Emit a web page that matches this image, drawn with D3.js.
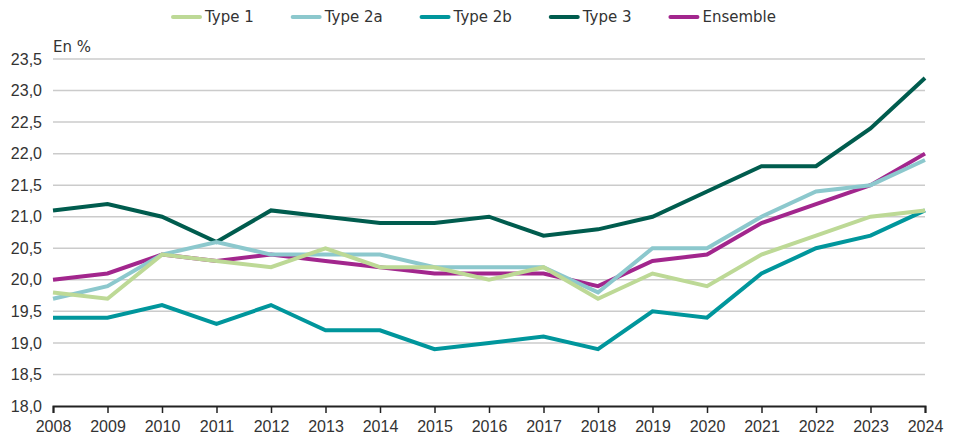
<!DOCTYPE html>
<html>
<head>
<meta charset="utf-8">
<script src="https://cdn.jsdelivr.net/npm/d3@7"></script>
<style>
  body { margin: 0; background: #fff; }
  svg { display: block; font-family: "DejaVu Sans", sans-serif; }
</style>
</head>
<body>
<svg id="chart"></svg>
<script>
// Data
const years = [2008, 2009, 2010, 2011, 2012, 2013, 2014, 2015, 2016, 2017, 2018, 2019, 2020, 2021, 2022, 2023, 2024];
const type1 = [19.8, 19.7, 20.4, 20.3, 20.2, 20.5, 20.2, 20.2, 20.0, 20.2, 19.7, 20.1, 19.9, 20.4, 20.7, 21.0, 21.1];
const type2a = [19.7, 19.9, 20.4, 20.6, 20.4, 20.4, 20.4, 20.2, 20.2, 20.2, 19.8, 20.5, 20.5, 21.0, 21.4, 21.5, 21.9];
const type2b = [19.4, 19.4, 19.6, 19.3, 19.6, 19.2, 19.2, 18.9, 19.0, 19.1, 18.9, 19.5, 19.4, 20.1, 20.5, 20.7, 21.1];
const type3 = [21.1, 21.2, 21.0, 20.6, 21.1, 21.0, 20.9, 20.9, 21.0, 20.7, 20.8, 21.0, 21.4, 21.8, 21.8, 22.4, 23.2];
const ensemble = [20.0, 20.1, 20.4, 20.3, 20.4, 20.3, 20.2, 20.1, 20.1, 20.1, 19.9, 20.3, 20.4, 20.9, 21.2, 21.5, 22.0];
const yTicks = [18.0, 18.5, 19.0, 19.5, 20.0, 20.5, 21.0, 21.5, 22.0, 22.5, 23.0, 23.5];

// legend order
const series = [
  { name: "Type 1", values: type1, color: "#bdd996" },
  { name: "Type 2a", values: type2a, color: "#8cc8cd" },
  { name: "Type 2b", values: type2b, color: "#00969c" },
  { name: "Type 3", values: type3, color: "#005c4e" },
  { name: "Ensemble", values: ensemble, color: "#a2268d" },
];
// drawing order (bottom to top)
const drawOrder = ["Ensemble", "Type 3", "Type 2b", "Type 2a", "Type 1"];

const width = 953, height = 440;
const margin = { top: 59, right: 28, bottom: 34, left: 53 };

const svg = d3.select("#chart").attr("width", width).attr("height", height);

const x = d3.scaleLinear()
  .domain([years[0], years[years.length - 1]])
  .range([margin.left, width - margin.right]);

const y = d3.scaleLinear()
  .domain([18, 23.5])
  .range([height - margin.bottom, margin.top]);

const fmt = d => d3.format(".1f")(d).replace(".", ",");

// gridlines
svg.append("g")
  .selectAll("line")
  .data(yTicks.slice(1))
  .join("line")
  .attr("x1", margin.left)
  .attr("x2", width - margin.right)
  .attr("y1", d => y(d))
  .attr("y2", d => y(d))
  .attr("stroke", "#cbcbcb")
  .attr("stroke-width", 1.5);

// y axis labels only
const yAxis = svg.append("g")
  .attr("transform", `translate(${margin.left},0)`)
  .call(d3.axisLeft(y).tickValues(yTicks).tickFormat(fmt).tickSize(0).tickPadding(11));
yAxis.select(".domain").remove();
yAxis.selectAll("text")
  .attr("fill", "#333")
  .style("font-size", "16px");

// x axis
const xAxis = svg.append("g")
  .attr("transform", `translate(0,${y(18)})`)
  .call(d3.axisBottom(x).tickValues(years).tickFormat(d3.format("d")).tickSize(7).tickPadding(8));
xAxis.select(".domain").attr("stroke", "#222").attr("stroke-width", 2);
xAxis.selectAll(".tick line").attr("stroke", "#222").attr("stroke-width", 1.5);
xAxis.selectAll("text")
  .attr("fill", "#333")
  .style("font-size", "16px");

// unit label
svg.append("text")
  .attr("x", margin.left)
  .attr("y", 52)
  .attr("fill", "#333")
  .style("font-size", "15px")
  .text("En %");

// lines
const line = d3.line()
  .x((d, i) => x(years[i]))
  .y(d => y(d));

svg.append("g")
  .selectAll("path")
  .data(drawOrder.map(n => series.find(s => s.name === n)))
  .join("path")
  .attr("d", d => line(d.values))
  .attr("fill", "none")
  .attr("stroke", d => d.color)
  .attr("stroke-width", 4)
  .attr("stroke-linejoin", "miter");

// legend, spread between x=172 and x=775 like the original
const legend = svg.append("g").attr("transform", "translate(0,17)");
const items = legend.selectAll("g")
  .data(series)
  .join("g");
items.append("line")
  .attr("x1", 1).attr("x2", 28)
  .attr("y1", 0).attr("y2", 0)
  .attr("stroke", d => d.color)
  .attr("stroke-width", 4)
  .attr("stroke-linecap", "round");
items.append("text")
  .attr("x", 33)
  .attr("dy", "0.35em")
  .attr("fill", "#333")
  .style("font-size", "15px")
  .text(d => d.name);

const widths = [];
items.each(function () { widths.push(this.getBBox().width); });
const legendStart = 172, legendEnd = 775;
const gap = (legendEnd - legendStart - d3.sum(widths)) / (widths.length - 1);
let pos = legendStart;
const positions = widths.map(w => { const p = pos; pos += w + gap; return p; });
items.attr("transform", (d, i) => `translate(${positions[i]},0)`);
</script>
</body>
</html>
